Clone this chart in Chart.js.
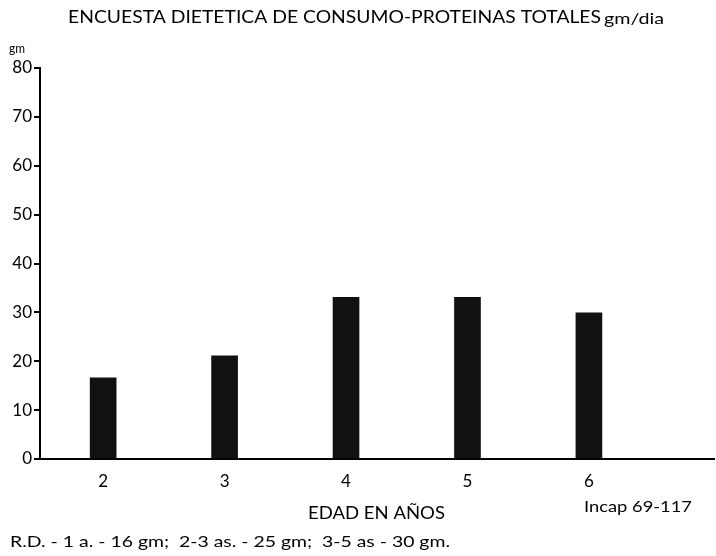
<!DOCTYPE html>
<html>
<head>
<meta charset="utf-8">
<script src="https://cdn.jsdelivr.net/npm/chart.js@4"></script>
<style>
    html, body { margin: 0; padding: 0; background: #fff; }
    #wrap { width: 716px; height: 556px; }
</style>
</head>
<body>
<div id="wrap"><canvas id="chart" width="716" height="556"></canvas></div>
<script>
// Data
const ages = [2, 3, 4, 5, 6];
const proteinGm = [16.6, 21.1, 33.1, 33.1, 29.9];
const yTicks = [0, 10, 20, 30, 40, 50, 60, 70, 80];

// Texts
const titleText = 'ENCUESTA DIETETICA DE CONSUMO-PROTEINAS TOTALES';
const titleUnit = 'gm/dia';
const yUnit = 'gm';
const xTitle = 'EDAD EN AÑOS';
const sourceNote = 'Incap 69-117';
const footnote = 'R.D. - 1 a. - 16 gm;  2-3 as. - 25 gm;  3-5 as - 30 gm.';

const FONT = 'Lato, "DejaVu Sans", sans-serif';

// Draw text squeezed or stretched to a given width
function fitText(ctx, text, x, y, width) {
    const w = ctx.measureText(text).width;
    ctx.save();
    ctx.translate(x, y);
    ctx.scale(width / w, 1);
    ctx.fillText(text, 0, 0);
    ctx.restore();
}

// Draws the title, units, axis title and notes
const textPlugin = {
    id: 'texts',
    afterDraw(chart) {
        const ctx = chart.ctx;
        ctx.save();
        ctx.fillStyle = '#000';
        ctx.textBaseline = 'alphabetic';
        ctx.textAlign = 'left';

        ctx.font = '18px ' + FONT;
        fitText(ctx, titleText, 68, 23, 533);
        ctx.font = '16px ' + FONT;
        fitText(ctx, titleUnit, 604, 24, 60);

        ctx.font = '13px ' + FONT;
        fitText(ctx, yUnit, 9, 53, 16);

        ctx.font = '17px ' + FONT;
        fitText(ctx, xTitle, 308, 519, 137);

        ctx.font = '16px ' + FONT;
        fitText(ctx, sourceNote, 584, 512, 108);
        fitText(ctx, footnote, 10, 547, 440);
        ctx.restore();
    }
};

const ctx = document.getElementById('chart').getContext('2d');
new Chart(ctx, {
    type: 'bar',
    data: {
        datasets: [{
            data: ages.map((a, i) => ({ x: a, y: proteinGm[i] })),
            backgroundColor: '#111',
            borderWidth: 0,
            barThickness: 26
        }]
    },
    options: {
        responsive: false,
        animation: false,
        layout: {
            padding: { top: 68, right: 2, bottom: 0, left: 0 }
        },
        scales: {
            x: {
                type: 'linear',
                offset: false,
                min: 1.48,
                max: 7.03,
                afterBuildTicks: (scale) => {
                    scale.ticks = ages.map(v => ({ value: v }));
                },
                afterFit: (scale) => { scale.height = 97; },
                grid: { display: false },
                border: { display: true, color: '#000', width: 2 },
                ticks: {
                    color: '#000',
                    font: { family: FONT, size: 17 },
                    padding: 4,
                    autoSkip: false,
                    maxRotation: 0
                }
            },
            y: {
                min: 0,
                max: 80,
                afterBuildTicks: (scale) => {
                    scale.ticks = yTicks.map(v => ({ value: v }));
                },
                afterFit: (scale) => { scale.width = 40; },
                grid: {
                    drawOnChartArea: false,
                    drawTicks: true,
                    tickLength: 6,
                    color: '#000',
                    lineWidth: 2
                },
                border: { display: true, color: '#000', width: 2 },
                ticks: {
                    color: '#000',
                    font: { family: FONT, size: 17 },
                    padding: 2
                }
            }
        },
        plugins: {
            legend: { display: false },
            tooltip: { enabled: false },
            title: { display: false }
        }
    },
    plugins: [textPlugin]
});
</script>
</body>
</html>
